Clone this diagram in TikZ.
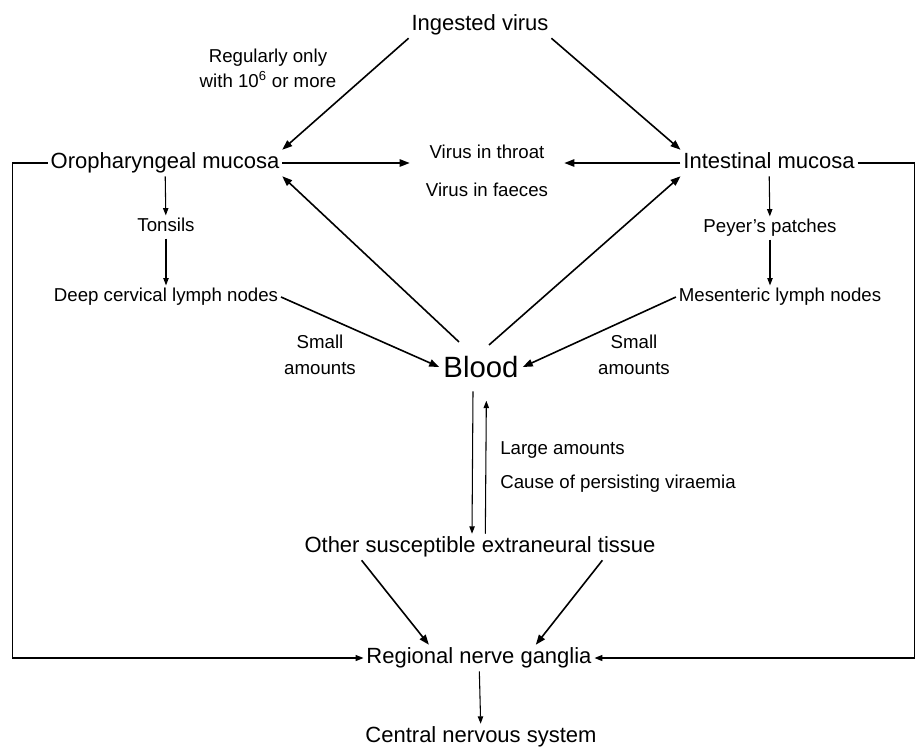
\documentclass[tikz,border=0pt]{standalone}
\usepackage{fontspec}
\setmainfont{Liberation Sans}
\usetikzlibrary{arrows.meta, calc}
\tikzset{
  big/.style  = {font=\fontsize{16.5}{20}\selectfont, inner sep=2pt,
                 text height=12pt, text depth=3.5pt},
  sml/.style  = {font=\fontsize{14}{17}\selectfont, inner sep=2pt,
                 text height=10pt, text depth=3pt},
  note/.style = {font=\fontsize{14}{19}\selectfont, align=center, inner sep=0pt},
  arr/.style  = {-{Triangle[length=7.5pt,width=5.5pt]}, line width=1.2pt},
  sarr/.style = {-{Triangle[length=5.5pt,width=4pt]}, line width=0.8pt},
  loop/.style = {-{Triangle[length=6pt,width=4.5pt]}, line width=1pt},
}
\begin{document}
\begin{tikzpicture}[x=0.75pt, y=-0.75pt]
  \useasboundingbox (0,0) rectangle (916,751);
  \node[big] (virus) at (480,25)  {Ingested virus};
  \node[big] (oro)   at (165,163) {Oropharyngeal mucosa};
  \node[big] (intes) at (769,163) {Intestinal mucosa};
  \node[note, font=\fontsize{14}{28.5}\selectfont, inner xsep=12pt] (shed) at (487,171)
       {Virus in throat\\Virus in faeces};
  \node[note] (dose) at (268,68) {Regularly only\\with 10\textsuperscript{6} or more};
  \node[sml] (tons)  at (166,227) {Tonsils};
  \node[sml] (deep)  at (166,297) {Deep cervical lymph nodes};
  \node[sml] (peyer) at (770,228) {Peyer's patches};
  \node[sml] (mes)   at (780,297) {Mesenteric lymph nodes};
  \node[font=\fontsize{22}{26}\selectfont, inner sep=3pt] (blood) at (481,367) {Blood};
  \node[note, font=\fontsize{14}{19.5}\selectfont] (smallL) at (320,355) {Small\\amounts};
  \node[note, font=\fontsize{14}{19.5}\selectfont] (smallR) at (634,355) {Small\\amounts};
  \node[note, font=\fontsize{14}{25}\selectfont, align=left, anchor=west] (large) at (500,467)
       {Large amounts\\Cause of persisting viraemia};
  \node[big] (other) at (480,547) {Other susceptible extraneural tissue};
  \node[big] (reg)   at (479,658) {Regional nerve ganglia};
  \node[big] (cns)   at (481,737) {Central nervous system};

  \draw[arr] (virus.south west) -- (oro.north east);
  \draw[arr] (virus.south east) -- (intes.north west);
  \draw[arr] (oro) -- (oro -| shed.west);
  \draw[arr] (intes) -- (intes -| shed.east);
  \draw[sarr] (oro) -- (tons); \draw[sarr] (tons) -- (deep);
  \draw[sarr] (intes) -- (peyer); \draw[sarr] (peyer) -- (peyer |- mes.north);
  \draw[arr] (deep.east) -- (blood.west);
  \draw[arr] (mes.west) -- (blood.east);
  \draw[arr] ($(blood.north)+(-22,-10)$) -- (oro.south east);
  \draw[arr] ($(blood.north)+(8,-7)$) -- (intes.south west);
  % blood <-> tissue
  \draw[sarr] ([xshift=-6pt,yshift=-7pt]blood.south) -- ([xshift=-6pt]other.north);
  \draw[sarr] ([xshift=4pt]other.north) -- ([xshift=4pt,yshift=-14pt]blood.south);
  \draw[arr] ([xshift=45pt]other.south west) -- ([xshift=49pt]reg.north west);
  \draw[arr] ([xshift=-42pt]other.south east) -- ([xshift=-44pt]reg.north east);
  \draw[loop] (oro.west) -- ++(-35,0) |- (reg.west);
  \draw[loop] (intes.east) -- ++(57,0) |- (reg.east);
  \draw[sarr] (reg) -- (cns);
\end{tikzpicture}
\end{document}
